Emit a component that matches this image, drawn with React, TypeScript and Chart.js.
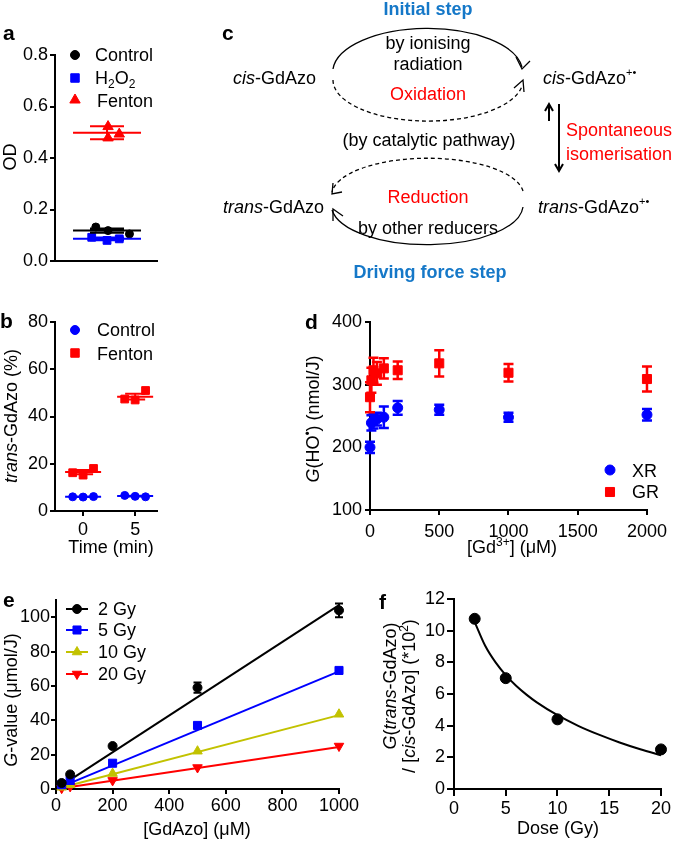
import React, { useEffect, useRef } from 'react';
import { Chart, registerables } from 'chart.js';
import { drawPoint } from 'chart.js/helpers';

Chart.register(...registerables);

const W = 673;
const H = 842;
const FONT = "'Liberation Sans', Arial, Helvetica, sans-serif";
const RED = '#ff0000';
const BLUE = '#0000ff';
const BLACK = '#000000';
const OLIVE = '#c2c200';
const DIAG_BLUE = '#1578c8';

// ---------- panel a ----------
const aControl = [0.132, 0.118, 0.105];
const aH2O2 = [0.092, 0.08, 0.086];
const aFenton = [0.522, 0.478, 0.493];
const aMeans = [0.118, 0.086, 0.498];
const aSems = [0.008, 0.005, 0.025];
const aJitterControl = [-1.1, 0.1, 2.2];
const aJitterH2O2 = [-1.5, 0, 1.2];
const aJitterFenton = [0.1, 0.1, 1.2];
const aTicks = [0, 0.2, 0.4, 0.6, 0.8];

// ---------- panel b ----------
const bTimes = [0, 5];
const bControl = [
  [6.0, 5.9, 6.1],
  [6.6, 6.2, 6.0],
];
const bFenton = [
  [16.2, 15.2, 18.0],
  [47.4, 47.0, 51.0],
];
const bControlMean = [6.0, 6.3];
const bControlSem = [0.1, 0.2];
const bFentonMean = [16.5, 48.4];
const bFentonSem = [0.9, 1.2];
const bJitter = [-1, 0, 1];
const bTicks = [0, 20, 40, 60, 80];

// ---------- panel d ----------
const dGd = [0, 10, 25, 50, 100, 200, 500, 1000, 2000];
const dXR = [200, 239, 242, 245, 248, 263, 260, 248, 252];
const dXRErr = [9, 12, 12, 10, 17, 11, 8, 7, 9];
const dGR = [280, 307, 323, 318, 326, 323, 334, 319, 309];
const dGRErr = [24, 20, 20, 18, 16, 14, 21, 14, 20];
const dXTicks = [0, 500, 1000, 1500, 2000];
const dYTicks = [100, 200, 300, 400];

// ---------- panel e ----------
const eConc = [20, 50, 200, 500, 1000];
const eDoses = ['2 Gy', '5 Gy', '10 Gy', '20 Gy'];
const e2Gy = [3.5, 8.5, 25, 59, 104];
const e5Gy = [2.5, 5, 15, 37, 69];
const e10Gy = [1, 2.5, 9, 22, 43.5];
const e20Gy = [0.5, 1.5, 5, 12.5, 25];
const e2GyErr = [0, 0, 0, 3, 4];
const eFitConc = [20, 1000];
const eFit2Gy = [2.1, 107];
const eFit5Gy = [1.4, 68.5];
const eFit10Gy = [0.9, 43];
const eFit20Gy = [0.5, 24.5];
const eXTicks = [0, 200, 400, 600, 800, 1000];
const eYTicks = [0, 20, 40, 60, 80, 100];

// ---------- panel f ----------
const fDose = [2, 5, 10, 20];
const fRatio = [10.75, 7.0, 4.4, 2.5];
const fCurveDose = [2, 3, 4, 5, 6, 7, 8, 10, 12, 14, 16, 18, 20];
const fCurveRatio = [10.54, 9.06, 8.01, 7.19, 6.52, 5.96, 5.47, 4.66, 3.99, 3.43, 2.94, 2.51, 2.13];
const fXTicks = [0, 5, 10, 15, 20];
const fYTicks = [0, 2, 4, 6, 8, 10, 12];

type Area = { l: number; t: number; r: number; b: number };
const Y_W = 50;
const X_H = 40;

function pts(xs: number[], ys: number[]) {
  return xs.map((x, i) => ({ x, y: ys[i] }));
}

function axis(
  min: number,
  max: number,
  o: { ticks?: number[]; fmt?: (v: number) => string; pad?: number; tickLen?: number; show?: boolean }
) {
  const show = o.show !== false;
  return {
    type: 'linear',
    min,
    max,
    border: { display: true, color: '#000', width: 2 },
    grid: {
      display: true,
      drawOnChartArea: false,
      drawTicks: show,
      tickLength: o.tickLen ?? 6,
      color: '#000',
      lineWidth: 2,
    },
    ticks: {
      display: show,
      color: '#000',
      font: { family: FONT, size: 18 },
      padding: o.pad ?? 2,
      maxRotation: 0,
      autoSkip: false,
      callback: (v: any) => (o.fmt ? o.fmt(Number(v)) : String(v)),
    },
    afterBuildTicks: (s: any) => {
      if (o.ticks) s.ticks = o.ticks.map((v) => ({ value: v }));
    },
  };
}

function options(area: Area, x: any, y: any) {
  return {
    responsive: false,
    maintainAspectRatio: false,
    animation: false,
    events: [],
    layout: {
      autoPadding: false,
      padding: { left: area.l - Y_W, top: area.t, right: W - area.r, bottom: H - area.b - X_H },
    },
    plugins: { legend: { display: false }, tooltip: { enabled: false } },
    scales: {
      x: { ...x, afterFit: (s: any) => { s.height = X_H; } },
      y: { ...y, afterFit: (s: any) => { s.width = Y_W; } },
    },
  };
}

type Seg = { t: string; sub?: boolean; sup?: boolean };
type LegItem = {
  style: string; rot?: number; r: number; color: string; mx: number; y: number;
  tx: number; ty: number; segs: Seg[]; line?: [number, number];
};

function legendPlugin(items: LegItem[]) {
  return {
    id: 'panelLegend',
    afterDraw(chart: any) {
      const ctx = chart.ctx as CanvasRenderingContext2D;
      items.forEach((it) => {
        ctx.save();
        if (it.line) {
          ctx.strokeStyle = it.color;
          ctx.lineWidth = 2;
          ctx.beginPath();
          ctx.moveTo(it.line[0], it.y);
          ctx.lineTo(it.line[1], it.y);
          ctx.stroke();
        }
        ctx.fillStyle = it.color;
        ctx.strokeStyle = it.color;
        ctx.lineWidth = 1;
        drawPoint(ctx, { pointStyle: it.style as any, radius: it.r, rotation: it.rot || 0, borderWidth: 1 } as any, it.mx, it.y);
        ctx.fillStyle = '#000';
        ctx.textBaseline = 'alphabetic';
        ctx.textAlign = 'left';
        let x = it.tx;
        it.segs.forEach((s) => {
          ctx.font = s.sub || s.sup ? `12px ${FONT}` : `18px ${FONT}`;
          const dy = s.sub ? 4 : s.sup ? -8 : 0;
          ctx.fillText(s.t, x, it.ty + dy);
          x += ctx.measureText(s.t).width;
        });
        ctx.restore();
      });
    },
  };
}

type Group = { x: number; mean: number; sem: number; color: string; halfMean: number; halfCap: number };
function meanSemPlugin(groups: Group[]) {
  return {
    id: 'meanSem',
    afterDatasetsDraw(chart: any) {
      const ctx = chart.ctx as CanvasRenderingContext2D;
      const xs = chart.scales.x;
      const ys = chart.scales.y;
      groups.forEach((g) => {
        const cx = xs.getPixelForValue(g.x);
        const ym = ys.getPixelForValue(g.mean);
        const y1 = ys.getPixelForValue(g.mean + g.sem);
        const y2 = ys.getPixelForValue(g.mean - g.sem);
        ctx.save();
        ctx.strokeStyle = g.color;
        ctx.lineWidth = 2;
        ctx.beginPath();
        ctx.moveTo(cx - g.halfMean, ym);
        ctx.lineTo(cx + g.halfMean, ym);
        ctx.moveTo(cx, y1);
        ctx.lineTo(cx, y2);
        ctx.moveTo(cx - g.halfCap, y1);
        ctx.lineTo(cx + g.halfCap, y1);
        ctx.moveTo(cx - g.halfCap, y2);
        ctx.lineTo(cx + g.halfCap, y2);
        ctx.stroke();
        ctx.restore();
      });
    },
  };
}

const errorBarPlugin = {
  id: 'errorBars',
  beforeDatasetsDraw(chart: any) {
    const ctx = chart.ctx as CanvasRenderingContext2D;
    const ys = chart.scales.y;
    chart.data.datasets.forEach((ds: any, i: number) => {
      const errs: number[] | undefined = ds.errorBars;
      if (!errs) return;
      const meta = chart.getDatasetMeta(i);
      const cap = ds.capHalf ?? 5;
      ctx.save();
      ctx.strokeStyle = ds.borderColor;
      ctx.lineWidth = ds.errorWidth ?? 2;
      meta.data.forEach((el: any, j: number) => {
        const e = errs[j];
        if (!e) return;
        const v = ds.data[j].y;
        const y1 = ys.getPixelForValue(v + e);
        const y2 = ys.getPixelForValue(v - e);
        ctx.beginPath();
        ctx.moveTo(el.x, y1);
        ctx.lineTo(el.x, y2);
        ctx.moveTo(el.x - cap, y1);
        ctx.lineTo(el.x + cap, y1);
        ctx.moveTo(el.x - cap, y2);
        ctx.lineTo(el.x + cap, y2);
        ctx.stroke();
      });
      ctx.restore();
    });
  },
};

function scatterDs(data: any[], color: string, style: string, r: number, extra: any = {}) {
  return {
    type: 'scatter',
    data,
    pointStyle: style,
    pointRadius: r,
    pointBackgroundColor: color,
    pointBorderColor: color,
    backgroundColor: color,
    borderColor: color,
    pointBorderWidth: 1,
    showLine: false,
    clip: false,
    ...extra,
  };
}

function lineDs(data: any[], color: string, extra: any = {}) {
  return {
    type: 'line',
    data,
    borderColor: color,
    backgroundColor: color,
    borderWidth: 2,
    pointRadius: 0,
    fill: false,
    clip: false,
    ...extra,
  };
}

const A_CENTER = 5.1;
const B_HALF_MEAN = 18;
const B_HALF_CAP = 10;

function configA() {
  const area: Area = { l: 55, t: 55, r: 157, b: 261 };
  const x = axis(0, 10, { show: false });
  const y = axis(0, 0.8, { ticks: aTicks, fmt: (v) => v.toFixed(1), pad: 2, tickLen: 5 });
  const ctrl = aControl.map((v, i) => ({ x: A_CENTER + aJitterControl[i], y: v }));
  const h2o2 = aH2O2.map((v, i) => ({ x: A_CENTER + aJitterH2O2[i], y: v }));
  const fen = aFenton.map((v, i) => ({ x: A_CENTER + aJitterFenton[i], y: v }));
  const colors = [BLACK, BLUE, RED];
  return {
    type: 'scatter',
    data: {
      datasets: [
        scatterDs(ctrl, BLACK, 'circle', 4),
        scatterDs(h2o2, BLUE, 'rect', 5.5),
        scatterDs(fen, RED, 'triangle', 6),
      ],
    },
    options: options(area, x, y),
    plugins: [
      meanSemPlugin(aMeans.map((m, i) => ({ x: A_CENTER, mean: m, sem: aSems[i], color: colors[i], halfMean: 34, halfCap: 17 }))),
      legendPlugin([
        { style: 'circle', r: 4.5, color: BLACK, mx: 75, y: 55, tx: 95, ty: 61, segs: [{ t: 'Control' }] },
        { style: 'rect', r: 6, color: BLUE, mx: 75, y: 78, tx: 95, ty: 84, segs: [{ t: 'H' }, { t: '2', sub: true }, { t: 'O' }, { t: '2', sub: true }] },
        { style: 'triangle', r: 6, color: RED, mx: 75, y: 100, tx: 97, ty: 107, segs: [{ t: 'Fenton' }] },
      ]),
    ],
  };
}

function configB() {
  const area: Area = { l: 55, t: 322, r: 157, b: 511 };
  const x = axis(-2.7, 7.1, { ticks: bTimes, pad: 3, tickLen: 5 });
  const y = axis(0, 80, { ticks: bTicks, pad: 2, tickLen: 5 });
  const ctrl: any[] = [];
  const fen: any[] = [];
  bTimes.forEach((t, ti) => {
    bControl[ti].forEach((v, i) => ctrl.push({ x: t + bJitter[i], y: v }));
    bFenton[ti].forEach((v, i) => fen.push({ x: t + bJitter[i], y: v }));
  });
  const groups: Group[] = [];
  bTimes.forEach((t, ti) => {
    groups.push({ x: t, mean: bControlMean[ti], sem: bControlSem[ti], color: BLUE, halfMean: B_HALF_MEAN, halfCap: B_HALF_CAP });
    groups.push({ x: t, mean: bFentonMean[ti], sem: bFentonSem[ti], color: RED, halfMean: B_HALF_MEAN, halfCap: B_HALF_CAP });
  });
  return {
    type: 'scatter',
    data: {
      datasets: [scatterDs(ctrl, BLUE, 'circle', 4), scatterDs(fen, RED, 'rect', 5.5)],
    },
    options: options(area, x, y),
    plugins: [
      meanSemPlugin(groups),
      legendPlugin([
        { style: 'circle', r: 4.5, color: BLUE, mx: 75, y: 330, tx: 97, ty: 336, segs: [{ t: 'Control' }] },
        { style: 'rect', r: 6, color: RED, mx: 75, y: 353, tx: 97, ty: 360, segs: [{ t: 'Fenton' }] },
      ]),
    ],
  };
}

function configD() {
  const area: Area = { l: 370, t: 322, r: 653, b: 510 };
  const x = axis(0, 2000, { ticks: dXTicks, pad: 6, tickLen: 5 });
  const y = axis(100, 400, { ticks: dYTicks, pad: 3, tickLen: 5 });
  return {
    type: 'scatter',
    data: {
      datasets: [
        scatterDs(pts(dGd, dXR), BLUE, 'circle', 5, { errorBars: dXRErr, capHalf: 5, errorWidth: 2.5 }),
        scatterDs(pts(dGd, dGR), RED, 'rect', 6.4, { errorBars: dGRErr, capHalf: 5, errorWidth: 2.5 }),
      ],
    },
    options: options(area, x, y),
    plugins: [
      errorBarPlugin,
      legendPlugin([
        { style: 'circle', r: 5, color: BLUE, mx: 610, y: 470, tx: 632, ty: 477, segs: [{ t: 'XR' }] },
        { style: 'rect', r: 6.4, color: RED, mx: 610, y: 492, tx: 632, ty: 498, segs: [{ t: 'GR' }] },
      ]),
    ],
  };
}

function configE() {
  const area: Area = { l: 56, t: 600, r: 339, b: 789 };
  const x = axis(0, 1000, { ticks: eXTicks, pad: 1, tickLen: 5 });
  const y = axis(0, 110, { ticks: eYTicks, pad: 1, tickLen: 5 });
  const series = [e2Gy, e5Gy, e10Gy, e20Gy];
  const fits = [eFit2Gy, eFit5Gy, eFit10Gy, eFit20Gy];
  const colors = [BLACK, BLUE, OLIVE, RED];
  const styles = ['circle', 'rect', 'triangle', 'triangle'];
  const rots = [0, 0, 0, 180];
  const radii = [4.5, 5.7, 5.5, 5.5];
  const datasets: any[] = [];
  series.forEach((s, i) => {
    datasets.push(
      scatterDs(pts(eConc, s), colors[i], styles[i], radii[i], {
        rotation: rots[i],
        errorBars: i === 0 ? e2GyErr : undefined,
        capHalf: 4,
        errorWidth: 2,
      })
    );
  });
  fits.forEach((f, i) => datasets.push(lineDs(pts(eFitConc, f), colors[i])));
  const rows = [609, 630, 652, 674];
  return {
    type: 'scatter',
    data: { datasets },
    options: options(area, x, y),
    plugins: [
      errorBarPlugin,
      legendPlugin(
        eDoses.map((d, i) => ({
          style: styles[i], rot: rots[i], r: radii[i], color: colors[i], mx: 77, y: rows[i],
          tx: 98, ty: rows[i] + 6, segs: [{ t: d }], line: [66, 88] as [number, number],
        }))
      ),
    ],
  };
}

function configF() {
  const area: Area = { l: 454, t: 599, r: 663, b: 789 };
  const x = axis(0, 20, { ticks: fXTicks, pad: 2, tickLen: 7 });
  const y = axis(0, 12, { ticks: fYTicks, pad: 2, tickLen: 7 });
  return {
    type: 'scatter',
    data: {
      datasets: [
        scatterDs(pts(fDose, fRatio), BLACK, 'circle', 5.5),
        lineDs(pts(fCurveDose, fCurveRatio), BLACK, { cubicInterpolationMode: 'monotone' }),
      ],
    },
    options: options(area, x, y),
    plugins: [],
  };
}

const canvasStyle: React.CSSProperties = { position: 'absolute', left: 0, top: 0, width: W, height: H };

function Overlay() {
  const base = { fontFamily: FONT, fontSize: 18, fill: '#000' } as any;
  const letter = { fontFamily: FONT, fontSize: 21, fontWeight: 'bold', fill: '#000' } as any;
  const it = { fontStyle: 'italic' } as any;
  return (
    <svg width={W} height={H} style={{ position: 'absolute', left: 0, top: 0, pointerEvents: 'none' }}>
      {/* panel letters */}
      <text x={3} y={40} {...letter}>a</text>
      <text x={0} y={328} {...letter}>b</text>
      <text x={222} y={40} {...letter}>c</text>
      <text x={305} y={329} {...letter}>d</text>
      <text x={3} y={607} {...letter}>e</text>
      <text x={379} y={609} {...letter}>f</text>

      {/* axis titles */}
      <text {...base} textAnchor="middle" transform="translate(16,157) rotate(-90)">OD</text>
      <text {...base} textAnchor="middle" transform="translate(17,416) rotate(-90)">
        <tspan {...it}>trans</tspan>-GdAzo (%)
      </text>
      <text {...base} x={111} y={553} textAnchor="middle">Time (min)</text>

      <text {...base} textAnchor="middle" transform="translate(319,419) rotate(-90)">
        <tspan {...it}>G</tspan>(HO<tspan fontSize={12} dy={-7}>•</tspan><tspan dy={7}>) (nmol/J)</tspan>
      </text>
      <text {...base} x={512} y={553} textAnchor="middle">
        [Gd<tspan fontSize={12} dy={-7}>3+</tspan><tspan dy={7}>] (μM)</tspan>
      </text>

      <text {...base} textAnchor="middle" transform="translate(17,700) rotate(-90)">
        <tspan {...it}>G</tspan>-value (μmol/J)
      </text>
      <text {...base} x={197} y={835} textAnchor="middle">[GdAzo] (μM)</text>

      <text {...base} textAnchor="middle" transform="translate(396,686) rotate(-90)">
        <tspan {...it}>G</tspan>(<tspan {...it}>trans</tspan>-GdAzo)
      </text>
      <text {...base} textAnchor="middle" transform="translate(415,696) rotate(-90)">
        / [<tspan {...it}>cis</tspan>-GdAzo] (*10<tspan fontSize={12} dy={-7}>2</tspan><tspan dy={7}>)</tspan>
      </text>
      <text {...base} x={558} y={834} textAnchor="middle">Dose (Gy)</text>

      {/* panel c diagram */}
      <text {...base} x={428} y={15} textAnchor="middle" fontWeight="bold" fill={DIAG_BLUE}>Initial step</text>
      <text {...base} x={428} y={49} textAnchor="middle">by ionising</text>
      <text {...base} x={428} y={70} textAnchor="middle">radiation</text>
      <text {...base} x={233} y={84}><tspan {...it}>cis</tspan>-GdAzo</text>
      <text {...base} x={428} y={100} textAnchor="middle" fill={RED}>Oxidation</text>
      <text {...base} x={543} y={84}>
        <tspan {...it}>cis</tspan>-GdAzo<tspan fontSize={11} dy={-8}>+•</tspan>
      </text>
      <text {...base} x={429} y={146} textAnchor="middle">(by catalytic pathway)</text>
      <text {...base} x={566} y={136} fill={RED}>Spontaneous</text>
      <text {...base} x={566} y={160} fill={RED}>isomerisation</text>
      <text {...base} x={223} y={213}><tspan {...it}>trans</tspan>-GdAzo</text>
      <text {...base} x={428} y={203} textAnchor="middle" fill={RED}>Reduction</text>
      <text {...base} x={538} y={213}>
        <tspan {...it}>trans</tspan>-GdAzo<tspan fontSize={11} dy={-8}>+•</tspan>
      </text>
      <text {...base} x={428} y={234} textAnchor="middle">by other reducers</text>
      <text {...base} x={430} y={278} textAnchor="middle" fontWeight="bold" fill={DIAG_BLUE}>Driving force step</text>

      <g fill="none" stroke="#000" strokeWidth={1.3}>
        <path d="M 333 69 A 95 44 0 0 1 522 67" />
        <path d="M 516 57 L 522 69 L 530 61" />
        <path d="M 333 80 A 95 41 0 0 0 522 86" strokeDasharray="4 3" />
        <path d="M 514 88 L 523 80 L 524 92" />
        <path d="M 523 191 A 96 37 0 0 0 332 192" strokeDasharray="4 3" />
        <path d="M 333 183 L 332 194 L 342 192" />
        <path d="M 523 207 A 96 40 0 0 1 332 210" />
        <path d="M 333 221 L 333 209 L 343 216" />
      </g>
      <g fill="none" stroke="#000" strokeWidth={2}>
        <path d="M 549 121 L 549 105" />
        <path d="M 545 111 L 549 104 L 553 111" />
        <path d="M 559 104 L 559 170" />
        <path d="M 555 164 L 559 171 L 563 164" />
      </g>
    </svg>
  );
}

export default function App() {
  const refs = [
    useRef<HTMLCanvasElement>(null),
    useRef<HTMLCanvasElement>(null),
    useRef<HTMLCanvasElement>(null),
    useRef<HTMLCanvasElement>(null),
    useRef<HTMLCanvasElement>(null),
  ];
  useEffect(() => {
    const cfgs = [configA(), configB(), configD(), configE(), configF()];
    const charts: Chart[] = [];
    cfgs.forEach((cfg, i) => {
      const c = refs[i].current;
      if (c) charts.push(new Chart(c, cfg as any));
    });
    return () => charts.forEach((c) => c.destroy());
  }, []);
  return (
    <div style={{ position: 'absolute', left: 0, top: 0, width: W, height: H, background: '#fff', overflow: 'hidden' }}>
      {refs.map((r, i) => (
        <canvas key={i} ref={r} width={W} height={H} style={canvasStyle} />
      ))}
      <Overlay />
    </div>
  );
}
